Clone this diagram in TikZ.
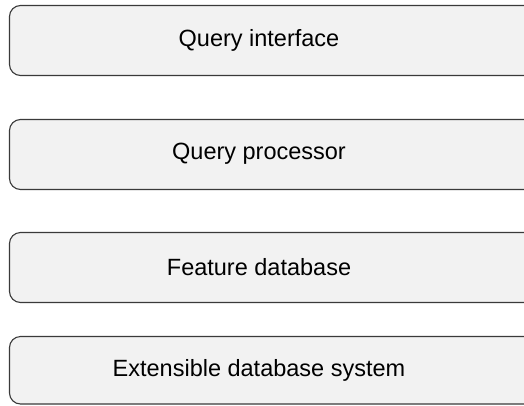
\documentclass[tikz,border=0pt]{standalone}
\usepackage{fontspec}
\setmainfont{Liberation Sans}
\definecolor{boxfill}{HTML}{F2F2F2}
\definecolor{boxline}{HTML}{3A3A3A}
\begin{document}
\begin{tikzpicture}[x=1pt,y=-1pt,
  layer/.style={draw=boxline, fill=boxfill, line width=1.1pt, rounded corners=11pt},
  layertext/.style={font=\fontsize{23.5}{28}\selectfont, inner sep=0pt, anchor=center}]
  \useasboundingbox (0,0) rectangle (524,405);
  \clip (0,0) rectangle (524,405);
  % stacked layers; the right side runs past the frame
  \path[layer] (9.5,5.5) rectangle (540,75.5);
  \path[layer] (9.5,119.5) rectangle (540,189.5);
  \path[layer] (9.5,232.5) rectangle (540,302.5);
  \path[layer] (9.5,336.5) rectangle (540,404);
  \node[layertext] (qi) at (259,40) {Query interface};
  \node[layertext] (qp) at (259,154) {Query processor};
  \node[layertext] (fd) at (259,267) {Feature database};
  \node[layertext] (eds) at (259,370) {Extensible database system};
\end{tikzpicture}
\end{document}
